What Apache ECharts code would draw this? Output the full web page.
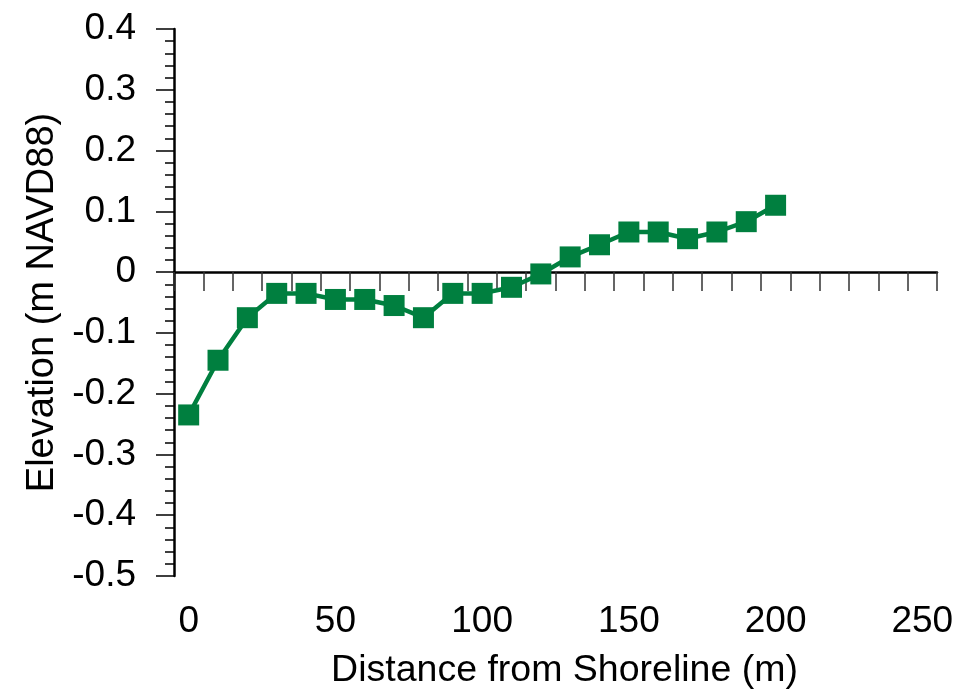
<!DOCTYPE html>
<html>
<head>
<meta charset="utf-8">
<script src="https://cdn.jsdelivr.net/npm/echarts@6/dist/echarts.min.js"></script>
<style>
  html, body { margin: 0; padding: 0; background: #ffffff; }
  #chart { width: 961px; height: 698px; }
</style>
</head>
<body>
<div id="chart"></div>
<script>
// Data
var distance = [0, 10, 20, 30, 40, 50, 60, 70, 80, 90, 100, 110, 120, 130, 140, 150, 160, 170, 180, 190, 200];
var elevation = [-0.235, -0.145, -0.075, -0.035, -0.035, -0.045, -0.045, -0.055, -0.075, -0.035, -0.035, -0.025, -0.003, 0.025, 0.045, 0.066, 0.066, 0.055, 0.066, 0.083, 0.11];
var xTickLabels = [0, 50, 100, 150, 200, 250];
var xTitle = 'Distance from Shoreline (m)';
var yTitle = 'Elevation (m NAVD88)';

var FONT = "'Liberation Sans', Arial, sans-serif";
var points = distance.map(function (d, i) { return [d, elevation[i]]; });

var chart = echarts.init(document.getElementById('chart'), null, { renderer: 'canvas' });
chart.setOption({
  backgroundColor: '#ffffff',
  animation: false,
  grid: { left: 174, right: 24, top: 29, bottom: 122, containLabel: false },
  xAxis: [
    {
      type: 'value', min: -5, max: 255, interval: 10,
      axisLine: { show: true, onZero: true, lineStyle: { color: '#000', width: 2.5 } },
      axisTick: { show: true, inside: false, length: 19, lineStyle: { color: '#333', width: 1.5 } },
      axisLabel: { show: false },
      splitLine: { show: false }
    },
    {
      type: 'value', min: -5, max: 255, position: 'bottom',
      axisLine: { show: false, onZero: false },
      axisTick: { show: false },
      axisLabel: {
        show: true, customValues: xTickLabels, margin: 27,
        fontFamily: FONT, fontSize: 37, color: '#000'
      },
      splitLine: { show: false },
      name: xTitle, nameLocation: 'middle', nameGap: 76,
      nameTextStyle: { fontFamily: FONT, fontSize: 37.5, color: '#000', padding: [0, 0, 0, 18] }
    }
  ],
  yAxis: {
    type: 'value', min: -0.5, max: 0.4, interval: 0.1,
    axisLine: { show: true, onZero: false, lineStyle: { color: '#000', width: 2.5 } },
    axisTick: { show: true, inside: false, length: 18, lineStyle: { color: '#000', width: 1.5 } },
    minorTick: { show: true, splitNumber: 5, length: 9, lineStyle: { color: '#000', width: 1.5 } },
    axisLabel: { margin: 38, fontFamily: FONT, fontSize: 37, color: '#000' },
    splitLine: { show: false },
    name: yTitle, nameLocation: 'middle', nameGap: 110, nameRotate: 90,
    nameTextStyle: { fontFamily: FONT, fontSize: 38, color: '#000' }
  },
  series: [{
    type: 'line',
    xAxisIndex: 0, yAxisIndex: 0,
    data: points,
    lineStyle: { color: '#007f3f', width: 4.5 },
    itemStyle: { color: '#007f3f' },
    symbol: 'rect', symbolSize: 21, showSymbol: true,
    z: 5
  }]
});
</script>
</body>
</html>
